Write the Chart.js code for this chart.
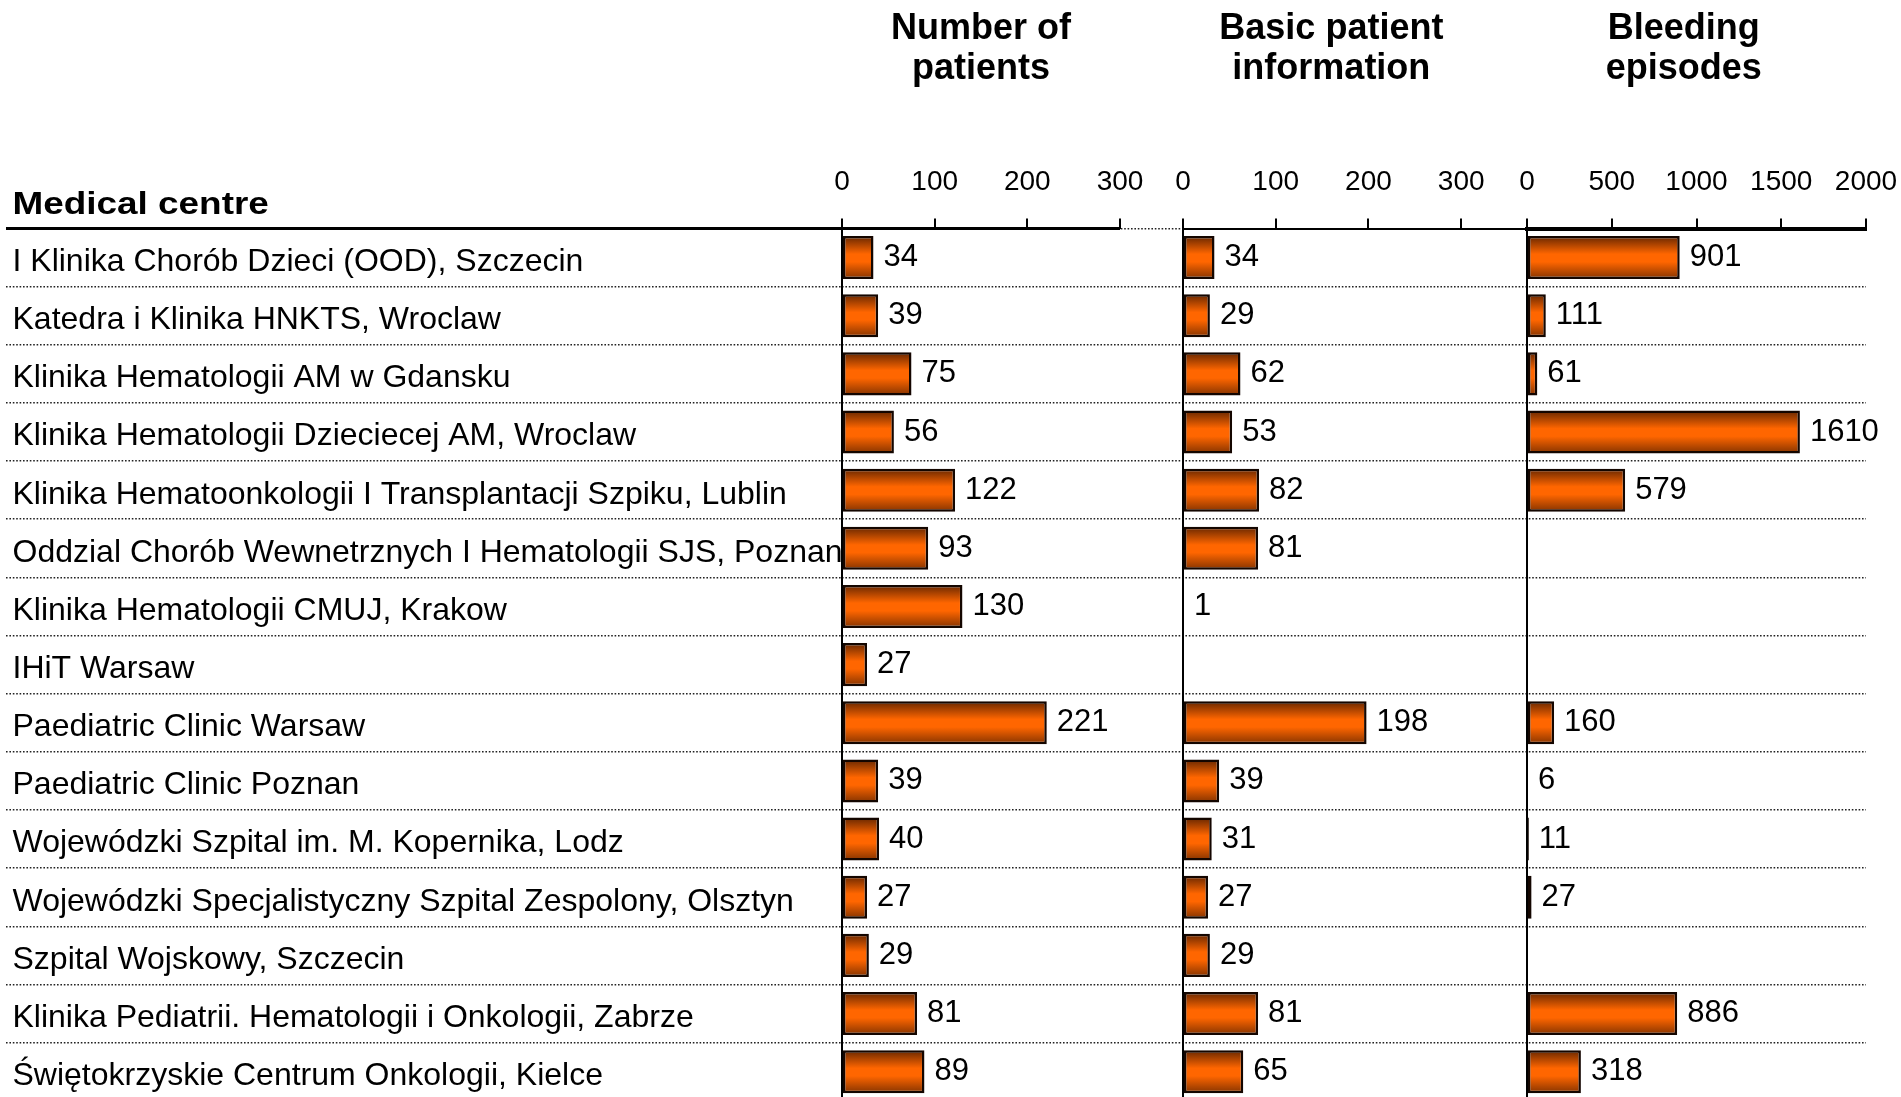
<!DOCTYPE html>
<html>
<head>
<meta charset="utf-8">
<script src="https://cdn.jsdelivr.net/npm/chart.js@4.4.0/dist/chart.umd.min.js"></script>
<style>
  html, body { margin: 0; padding: 0; background: #fff; overflow: hidden; }
  #wrap { position: relative; width: 1901px; height: 1130px; }
</style>
</head>
<body>
<div id="wrap"><canvas id="myChart" width="1901" height="1130"></canvas></div>
<script>
// data
const centres = [
    'I Klinika Chorób Dzieci (OOD), Szczecin',
    'Katedra i Klinika HNKTS, Wroclaw',
    'Klinika Hematologii AM w Gdansku',
    'Klinika Hematologii Dzieciecej AM, Wroclaw',
    'Klinika Hematoonkologii I Transplantacji Szpiku, Lublin',
    'Oddzial Chorób Wewnetrznych I Hematologii SJS, Poznan',
    'Klinika Hematologii CMUJ, Krakow',
    'IHiT Warsaw',
    'Paediatric Clinic Warsaw',
    'Paediatric Clinic Poznan',
    'Wojewódzki Szpital im. M. Kopernika, Lodz',
    'Wojewódzki Specjalistyczny Szpital Zespolony, Olsztyn',
    'Szpital Wojskowy, Szczecin',
    'Klinika Pediatrii. Hematologii i Onkologii, Zabrze',
    'Świętokrzyskie Centrum Onkologii, Kielce'
];
const patients  = [34, 39, 75, 56, 122, 93, 130, 27, 221, 39, 40, 27, 29, 81, 89];
const basicInfo = [34, 29, 62, 53, 82, 81, 1, null, 198, 39, 31, 27, 29, 81, 65];
const bleeds    = [901, 111, 61, 1610, 579, null, null, null, 160, 6, 11, 27, null, 886, 318];

const panelTitles = [['Number of', 'patients'], ['Basic patient', 'information'], ['Bleeding', 'episodes']];
const patientTicks = [0, 100, 200, 300];
const infoTicks = [0, 100, 200, 300];
const bleedTicks = [0, 500, 1000, 1500, 2000];
const rowHeader = 'Medical centre';

const FONT = "'Liberation Sans', Arial, sans-serif";
Chart.defaults.font.family = FONT;
Chart.defaults.color = '#000';

// orange bar with dark top/bottom edges
function barFill(c) {
    const chart = c.chart;
    const y = chart.scales.y;
    if (!chart.chartArea || !y || c.dataIndex === undefined) return '#ff6600';
    const step = y.getPixelForValue(1) - y.getPixelForValue(0);
    const mid = y.getPixelForValue(c.dataIndex);
    const h = step * 0.74 / 2;
    const g = chart.ctx.createLinearGradient(0, mid - h, 0, mid + h);
    g.addColorStop(0, '#662600');
    g.addColorStop(0.42, '#ff6600');
    g.addColorStop(0.6, '#ff6600');
    g.addColorStop(1, '#843300');
    return g;
}

function panelAxis(max, weight, tickValues, borderWidth) {
    return {
        type: 'linear',
        position: 'top',
        stack: 'panels',
        stackWeight: weight,
        min: 0,
        max: max,
        afterBuildTicks: s => { s.ticks = tickValues.map(v => ({value: v})); },
        afterFit: s => { s.height = 68; s.paddingLeft = 0; s.paddingRight = 0; },
        border: {display: borderWidth > 0, color: '#000', width: borderWidth},
        grid: {
            drawOnChartArea: true,
            color: c => (c.tick && c.tick.value === 0) ? '#000' : 'rgba(0,0,0,0)',
            lineWidth: 2,
            tickLength: 10,
            tickColor: '#000',
            tickWidth: 2
        },
        ticks: {
            font: {size: 28}, color: '#000', padding: 19, autoSkip: false, maxRotation: 0,
            callback: v => String(v)
        }
    };
}

const valueLabels = {
    id: 'valueLabels',
    afterDatasetsDraw(chart) {
        const ctx = chart.ctx;
        ctx.save();
        ctx.font = '31px ' + FONT;
        ctx.fillStyle = '#000';
        ctx.textBaseline = 'middle';
        chart.data.datasets.forEach((ds, i) => {
            chart.getDatasetMeta(i).data.forEach((bar, j) => {
                if (ds.data[j] == null) return;
                ctx.fillText(ds.data[j], bar.x + 10, bar.y);
            });
        });
        ctx.restore();
    }
};

const titleAt = [150, 160, 925];
const headers = {
    id: 'headers',
    afterDraw(chart) {
        const ctx = chart.ctx;
        const top = chart.chartArea.top;
        const x1 = chart.scales.x1;
        ctx.save();
        ctx.strokeStyle = '#000';
        ctx.lineWidth = 3;
        ctx.beginPath();
        ctx.moveTo(6, top);
        ctx.lineTo(x1.getPixelForValue(patientTicks[patientTicks.length - 1]), top);
        ctx.stroke();

        ctx.fillStyle = '#000';
        ctx.textAlign = 'left';
        ctx.font = 'bold 31px ' + FONT;
        ctx.save();
        ctx.translate(12.5, 214);
        ctx.scale(1.19, 1);
        ctx.fillText(rowHeader, 0, 0);
        ctx.restore();

        ctx.font = 'bold 36px ' + FONT;
        ctx.textAlign = 'center';
        ['x1', 'x2', 'x3'].forEach((id, k) => {
            const cx = chart.scales[id].getPixelForValue(titleAt[k]);
            panelTitles[k].forEach((line, n) => ctx.fillText(line, cx, 39 + n * 40));
        });
        ctx.restore();
    }
};

const barStyle = {
    backgroundColor: barFill,
    borderColor: '#140600',
    borderWidth: 2.5,
    borderSkipped: false,
    grouped: false,
    barPercentage: 0.74,
    categoryPercentage: 1
};

// top boxes are laid out in reverse order, so the last panel comes first here
const config = {
    type: 'bar',
    data: {
        labels: centres,
        datasets: [
            Object.assign({label: 'Number of patients', data: patients, xAxisID: 'x1'}, barStyle),
            Object.assign({label: 'Basic patient information', data: basicInfo, xAxisID: 'x2'}, barStyle),
            Object.assign({label: 'Bleeding episodes', data: bleeds, xAxisID: 'x3'}, barStyle)
        ]
    },
    options: {
        indexAxis: 'y',
        responsive: false,
        animation: false,
        layout: {padding: {left: 12.5, right: 35, top: 160.5, bottom: 29.25}},
        plugins: {legend: {display: false}, tooltip: {enabled: false}},
        scales: {
            y: {
                type: 'category',
                position: 'left',
                afterFit: s => { s.width = 829.5; },
                border: {display: false, dash: [1.6, 1.8]},
                grid: {
                    offset: true,
                    color: '#222',
                    lineWidth: 1.6,
                    tickLength: 836,
                    tickColor: '#222',
                    tickWidth: 1.6,
                    tickBorderDash: [1.6, 1.8]
                },
                ticks: {crossAlign: 'far', font: {size: 32}, color: '#000', labelOffset: 4.5, autoSkip: false}
            },
            x3: panelAxis(2000, 339, bleedTicks, 4),
            x2: panelAxis(371, 344, infoTicks, 2),
            x1: panelAxis(368, 341, patientTicks, 0)
        }
    },
    plugins: [valueLabels, headers]
};

const myChart = new Chart(document.getElementById('myChart'), config);
</script>
</body>
</html>
